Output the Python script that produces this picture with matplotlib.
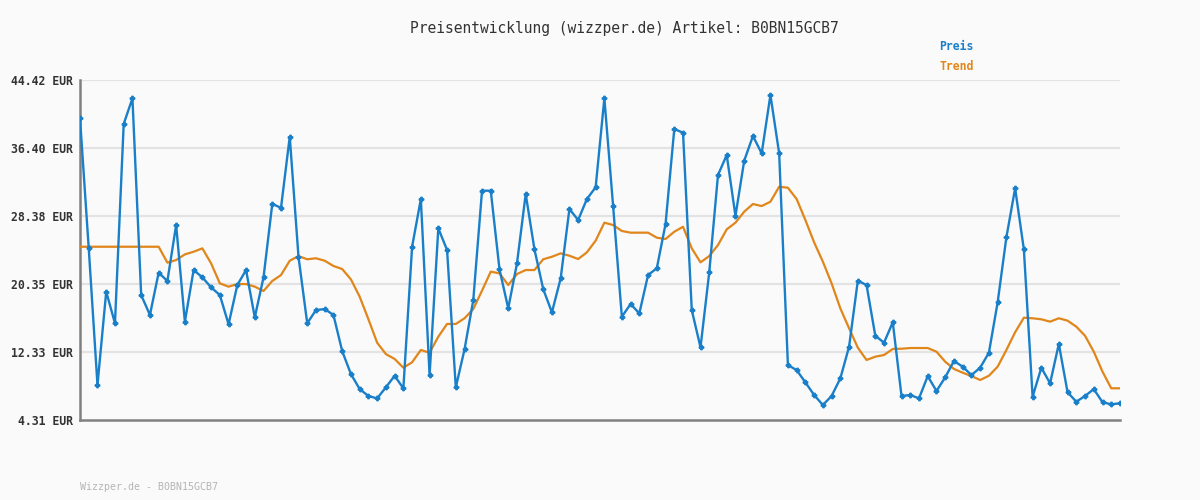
import matplotlib
matplotlib.use("Agg")
import matplotlib.pyplot as plt

preis = [39.90, 24.56, 8.44, 19.45, 15.72, 39.23, 42.26, 19.05, 16.70, 21.69,
         20.71, 27.31, 15.91, 22.00, 21.14, 19.96, 19.05, 15.60, 20.23, 22.00,
         16.42, 21.14, 29.79, 29.35, 37.73, 23.57, 15.72, 17.28, 17.40, 16.70,
         12.44, 9.73, 7.96, 7.14, 6.86, 8.16, 9.53, 8.04, 24.75, 30.38,
         9.61, 26.92, 24.36, 8.16, 12.65, 18.46, 31.36, 31.36, 22.08, 17.48,
         22.79, 30.97, 24.44, 19.76, 17.01, 21.02, 29.20, 27.90, 30.38, 31.76,
         42.26, 29.55, 16.49, 17.99, 16.89, 21.41, 22.21, 27.43, 38.64, 38.20,
         17.28, 12.88, 21.73, 33.21, 35.57, 28.38, 34.90, 37.81, 35.77, 42.65,
         35.77, 10.79, 10.20, 8.75, 7.26, 6.08, 7.14, 9.22, 12.96, 20.74,
         20.23, 14.25, 13.43, 15.84, 7.14, 7.26, 6.86, 9.49, 7.73, 9.34,
         11.27, 10.60, 9.61, 10.48, 12.25, 18.19, 25.86, 31.64, 24.44, 7.06,
         10.48, 8.64, 13.28, 7.58, 6.47, 7.14, 7.96, 6.40, 6.16, 6.28]

trend = [24.75, 24.75, 24.75, 24.75, 24.75, 24.75, 24.75, 24.75, 24.75, 24.75,
         22.87, 23.18, 23.85, 24.16, 24.56, 22.79, 20.43, 20.04, 20.35, 20.35,
         20.04, 19.53, 20.71, 21.41, 23.10, 23.65, 23.27, 23.39, 23.10, 22.48,
         22.12, 20.90, 18.86, 16.20, 13.43, 12.09, 11.51, 10.48, 11.12, 12.57,
         12.25, 14.14, 15.64, 15.64, 16.31, 17.40, 19.57, 21.81, 21.61, 20.23,
         21.53, 22.00, 22.00, 23.27, 23.57, 23.97, 23.69, 23.30, 24.09, 25.46,
         27.59, 27.31, 26.61, 26.41, 26.41, 26.41, 25.82, 25.66, 26.52, 27.11,
         24.56, 22.91, 23.65, 24.95, 26.80, 27.59, 28.88, 29.79, 29.55, 30.06,
         31.83, 31.71, 30.38, 27.90, 25.27, 22.99, 20.43, 17.48, 15.13, 12.84,
         11.39, 11.78, 11.98, 12.69, 12.72, 12.80, 12.80, 12.80, 12.37, 11.19,
         10.33, 9.89, 9.49, 9.03, 9.53, 10.60, 12.57, 14.66, 16.38, 16.31,
         16.19, 15.91, 16.31, 16.03, 15.32, 14.25, 12.37, 10.01, 8.05, 8.05]

y_ticks = [4.31, 12.33, 20.35, 28.38, 36.40, 44.42]
y_labels = ["4.31 EUR", "12.33 EUR", "20.35 EUR", "28.38 EUR", "36.40 EUR", "44.42 EUR"]

title = "Preisentwicklung (wizzper.de) Artikel: B0BN15GCB7"
footer = "Wizzper.de - B0BN15GCB7"

blue = "#1a7fc9"
orange = "#e0861a"
bg = "#fafafa"
mono = "DejaVu Sans Mono"

fig = plt.figure(figsize=(12, 5), dpi=100, facecolor=bg)
ax = fig.add_axes([80/1200, 80/500, 1040/1200, 340/500], facecolor=bg)

x = list(range(len(preis)))
ax.plot(x, trend, color=orange, lw=1.6, zorder=3, solid_joinstyle="round")
ax.plot(x, preis, color=blue, lw=1.7, marker="P", markersize=3.2, zorder=4,
        solid_joinstyle="round")

ax.set_xlim(0, len(preis) - 1)
ax.set_ylim(y_ticks[0], y_ticks[-1])
ax.set_yticks(y_ticks)
ax.set_yticklabels(y_labels, fontfamily=mono, fontweight="bold", fontsize=8.3, color="#333333")
ax.set_xticks([])
ax.tick_params(axis="y", length=0, pad=5)
for t in y_ticks[1:]:
    ax.axhline(t, color="#e3e3e3", lw=1.6, zorder=1)

for s in ["top", "right"]:
    ax.spines[s].set_visible(False)
for s in ["left", "bottom"]:
    ax.spines[s].set_color("#808080")
    ax.spines[s].set_linewidth(1.8)

fig.text(624/1200, 1 - 28/500, title, ha="center", va="center", fontfamily=mono,
         fontsize=10.5, color="#333333")
fig.text(939/1200, 1 - 47/500, "Preis", ha="left", va="center", fontfamily=mono,
         fontweight="bold", fontsize=8.3, color=blue)
fig.text(939/1200, 1 - 67/500, "Trend", ha="left", va="center", fontfamily=mono,
         fontweight="bold", fontsize=8.3, color=orange)
fig.text(80/1200, 1 - 487/500, footer, ha="left", va="center", fontfamily=mono,
         fontsize=7.2, color="#b5b5b5")

fig.savefig("out.png", dpi=100, facecolor=bg)
